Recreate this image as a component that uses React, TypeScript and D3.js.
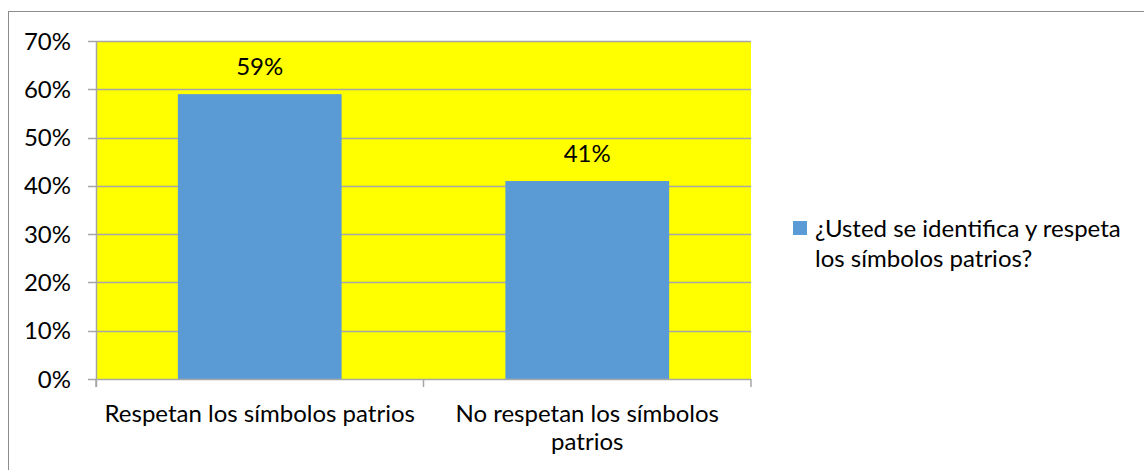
import React from "react";
import * as d3 from "d3";

const categories: string[][] = [
  ["Respetan los símbolos patrios"],
  ["No respetan los símbolos", "patrios"],
];
const values: number[] = [0.59, 0.41];
const yTicks: number[] = [0, 0.1, 0.2, 0.3, 0.4, 0.5, 0.6, 0.7];
const legendLines: string[] = ["¿Usted se identifica y respeta", "los símbolos patrios?"];

const FONT = "Lato, 'Open Sans', sans-serif";
const FS = 24;

export default function App() {
  const W = 1144, H = 470;
  const left = 96, right = 751, top = 41, bottom = 379;
  const x = d3.scaleBand<number>().domain(d3.range(values.length)).range([left, right]).paddingInner(0.5).paddingOuter(0.25);
  const y = d3.scaleLinear().domain([0, 0.7]).range([bottom, top]);
  const fmt = d3.format(".0%");
  const grid = "#a6a6a6";
  const catEdges = d3.range(values.length + 1).map((i) => left + (i * (right - left)) / values.length);

  return (
    <svg width={W} height={H} style={{ position: "absolute", left: 0, top: 0, fontFamily: FONT }}>
      <rect x={0} y={0} width={W} height={H} fill="#ffffff" />
      <rect x={8.5} y={11.5} width={W} height={H} fill="none" stroke="#8c8c8c" strokeWidth={1} />
      <rect x={left} y={top} width={right - left} height={bottom - top} fill="#ffff00" />
      {yTicks.map((t) => (
        <g key={t}>
          <line x1={left - 8} x2={t === 0 ? left : right} y1={Math.round(y(t)) + 0.5} y2={Math.round(y(t)) + 0.5} stroke={grid} strokeWidth={1.5} />
          <text x={71} y={y(t)} dy="0.36em" textAnchor="end" fontSize={FS} fill="#000">{fmt(t)}</text>
        </g>
      ))}
      {values.map((v, i) => (
        <g key={i}>
          <rect x={x(i)} y={y(v)} width={x.bandwidth()} height={bottom - y(v)} fill="#5b9bd5" />
          <text x={(x(i) as number) + x.bandwidth() / 2} y={y(v) - 19} textAnchor="middle" fontSize={FS} fill="#000">{fmt(v)}</text>
        </g>
      ))}
      <line x1={left + 0.5} x2={left + 0.5} y1={top} y2={bottom + 8} stroke={grid} strokeWidth={1.5} />
      <line x1={left} x2={right} y1={bottom + 0.5} y2={bottom + 0.5} stroke={grid} strokeWidth={1.5} />
      {catEdges.map((cx, i) => (
        <line key={i} x1={cx} x2={cx} y1={bottom} y2={bottom + 8} stroke={grid} strokeWidth={1.5} />
      ))}
      {categories.map((lines, i) => (
        <text key={i} x={(x(i) as number) + x.bandwidth() / 2} y={422} textAnchor="middle" fontSize={FS} fill="#000">
          {lines.map((l, j) => (
            <tspan key={j} x={(x(i) as number) + x.bandwidth() / 2} dy={j === 0 ? 0 : 28}>{l}</tspan>
          ))}
        </text>
      ))}
      <rect x={793} y={221} width={14} height={14} fill="#5b9bd5" />
      <text x={815} y={237} fontSize={FS} fill="#000">
        {legendLines.map((l, j) => (
          <tspan key={j} x={815} dy={j === 0 ? 0 : 30}>{l}</tspan>
        ))}
      </text>
    </svg>
  );
}
